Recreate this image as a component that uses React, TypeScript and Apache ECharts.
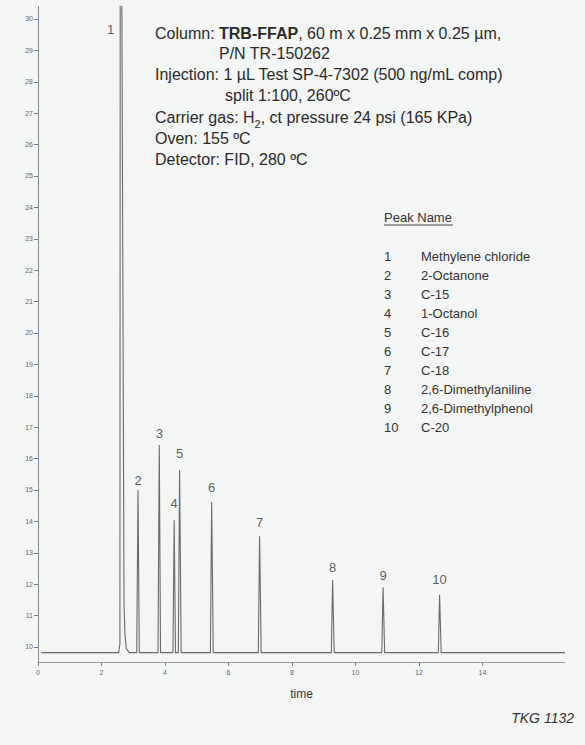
import React, { useEffect, useRef } from 'react';
import * as echarts from 'echarts';

// ---- data ----
const yTickValues = [10, 11, 12, 13, 14, 15, 16, 17, 18, 19, 20, 21, 22, 23, 24, 25, 26, 27, 28, 29, 30];
const xTickValues = [0, 2, 4, 6, 8, 10, 12, 14];
const baselineLevel = 9.82;
const traceStartTime = 0.1;
const traceEndTime = 16.6;

// solvent peak (peak 1) outline, [time, signal]
const solventPeak: [number, number][] = [
  [2.54, 9.82], [2.58, 10.1], [2.59, 31], [2.64, 31], [2.71, 11.3], [2.74, 10.4], [2.78, 9.95], [2.88, 9.82],
];

const peakNumbers = ['1', '2', '3', '4', '5', '6', '7', '8', '9', '10'];
const peakNames = [
  'Methylene chloride', '2-Octanone', 'C-15', '1-Octanol', 'C-16',
  'C-17', 'C-18', '2,6-Dimethylaniline', '2,6-Dimethylphenol', 'C-20',
];
const peakStart = [2.54, 3.11, 3.78, 4.25, 4.42, 5.43, 6.94, 9.24, 10.83, 12.61];
const peakApex = [2.62, 3.15, 3.82, 4.29, 4.46, 5.47, 6.98, 9.28, 10.87, 12.65];
const peakEnd = [2.88, 3.19, 3.86, 4.33, 4.51, 5.52, 7.03, 9.33, 10.92, 12.7];
const peakHeights = [31, 15.0, 16.43, 14.04, 15.64, 14.62, 13.53, 12.13, 11.9, 11.66];
const peak1LabelLevel = 29.65;

const conditionLines = [
  'Column: {b|TRB-FFAP}, 60 m x 0.25 mm x 0.25 µm,',
  'P/N TR-150262',
  'Injection: 1 µL Test SP-4-7302 (500 ng/mL comp)',
  'split 1:100, 260ºC',
  'Carrier gas: H{sub|2}, ct pressure 24 psi (165 KPa)',
  'Oven: 155 ºC',
  'Detector: FID, 280 ºC',
];

export default function App() {
  const ref = useRef<HTMLDivElement>(null);

  useEffect(() => {
    if (!ref.current) return;
    const chart = echarts.init(ref.current, null, { renderer: 'svg' });

    const trace: [number, number][] = [[traceStartTime, baselineLevel], ...solventPeak];
    for (let i = 1; i < peakApex.length; i++) {
      trace.push([peakStart[i], baselineLevel]);
      trace.push([peakApex[i], peakHeights[i]]);
      trace.push([peakEnd[i], baselineLevel]);
    }
    trace.push([traceEndTime, baselineLevel]);

    const font = 'Liberation Sans, Arial, sans-serif';
    const labelDist = [8, 3, 5, 10, 10, 8, 7, 6, 5, 9];
    const labelData = peakApex.map((t, i) => {
      if (i === 0) {
        return {
          value: [t, peak1LabelLevel],
          name: peakNumbers[i],
          label: { position: 'left', distance: 7, color: '#333', fontSize: 13, fontFamily: font },
        };
      }
      return {
        value: [t, peakHeights[i]],
        name: peakNumbers[i],
        label: { position: 'top', distance: labelDist[i], color: '#333', fontSize: 13, fontFamily: font },
      };
    });

    const textColor = '#2a2a2a';
    const condX = [155, 219, 155, 225, 155, 155, 155];
    const condY = [33, 53, 74, 95, 117, 138, 159];

    const graphics: any[] = conditionLines.map((line, i) => ({
      type: 'text',
      x: condX[i],
      y: condY[i],
      style: {
        text: line,
        fill: textColor,
        fontSize: 16,
        fontFamily: font,
        verticalAlign: 'middle',
        rich: {
          b: { fontWeight: 'bold', fontSize: 16, fontFamily: font, fill: textColor },
          sub: {
            fontSize: 11,
            fontFamily: font,
            fill: textColor,
            verticalAlign: 'bottom',
            lineHeight: 24,
          },
        },
      },
    }));

    graphics.push({
      type: 'text',
      x: 384,
      y: 217,
      style: { text: 'Peak Name', fill: '#333', fontSize: 13, fontFamily: font, verticalAlign: 'middle' },
    });
    graphics.push({
      type: 'line',
      shape: { x1: 384, y1: 225, x2: 453, y2: 225 },
      style: { stroke: '#444', lineWidth: 1 },
    });
    peakNames.forEach((name, i) => {
      const y = 256 + i * 19.1;
      graphics.push({
        type: 'text',
        x: 384,
        y,
        style: { text: peakNumbers[i], fill: '#333', fontSize: 13, fontFamily: font, verticalAlign: 'middle' },
      });
      graphics.push({
        type: 'text',
        x: 421,
        y,
        style: { text: name, fill: '#333', fontSize: 13, fontFamily: font, verticalAlign: 'middle' },
      });
    });
    graphics.push({
      type: 'text',
      x: 574,
      y: 718,
      style: {
        text: 'TKG 1132',
        fill: '#333',
        fontSize: 14,
        fontStyle: 'italic',
        fontFamily: font,
        align: 'right',
        verticalAlign: 'middle',
      },
    });

    chart.setOption({
      animation: false,
      backgroundColor: '#f4f5f5',
      grid: { left: 38, right: 20, top: 6.4, bottom: 745 - 662.7, containLabel: false },
      xAxis: {
        type: 'value',
        min: 0,
        max: 16.6,
        name: 'time',
        nameLocation: 'middle',
        nameGap: 25,
        nameTextStyle: { color: '#333', fontSize: 12, fontFamily: font },
        axisLine: { show: true, lineStyle: { color: '#9a9a9a', width: 1 } },
        axisTick: { show: true, length: 3, customValues: xTickValues, lineStyle: { color: '#777' } },
        axisLabel: { customValues: xTickValues, color: '#666', fontSize: 7, fontFamily: font, margin: 6 },
        splitLine: { show: false },
      },
      yAxis: {
        type: 'value',
        min: 9.5,
        max: 30.4,
        axisLine: { show: true, lineStyle: { color: '#888', width: 1 } },
        axisTick: { show: true, length: 4, customValues: yTickValues, lineStyle: { color: '#777' } },
        axisLabel: { customValues: yTickValues, color: '#666', fontSize: 7, fontFamily: font, margin: 5 },
        splitLine: { show: false },
      },
      series: [
        {
          type: 'line',
          data: trace,
          symbol: 'none',
          lineStyle: { color: '#6a6a6a', width: 1.1 },
          clip: true,
          silent: true,
        },
        {
          type: 'scatter',
          data: labelData,
          symbolSize: 0,
          silent: true,
          label: {
            show: true,
            formatter: '{b}',
            color: '#333',
            fontSize: 13,
            fontFamily: font,
          },
        },
      ],
      graphic: graphics,
    });

    return () => chart.dispose();
  }, []);

  return (
    <div
      ref={ref}
      style={{ position: 'fixed', left: 0, top: 0, width: 585, height: 745, background: '#f4f5f5' }}
    />
  );
}
